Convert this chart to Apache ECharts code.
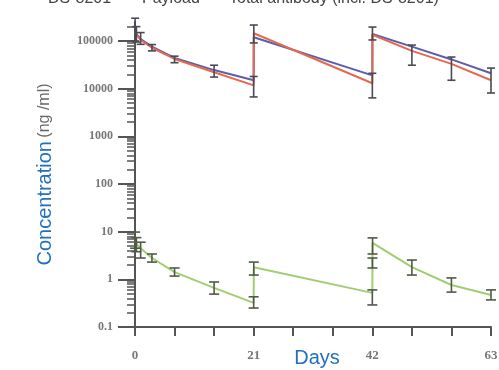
<!DOCTYPE html>
<html>
<head>
<meta charset="utf-8">
<script src="https://cdn.jsdelivr.net/npm/echarts@6/dist/echarts.min.js"></script>
<style>html,body{margin:0;padding:0;background:#fff;}#c{width:499px;height:370px;}</style>
</head>
<body>
<div id="c"></div>
<script>
// ---- data ----
const seriesNames = ['DS-8201', 'Payload', 'Total antibody (incl. DS-8201)'];
const upperDays = [0.02, 0.25, 1, 3, 7, 14, 21, 21.02, 42, 42.02, 49, 56, 63];
const ds8201 = [160000, 140000, 105000, 72000, 42000, 22000, 11700, 145000, 13000, 135000, 62000, 33000, 15000];
const totalAb = [150000, 140000, 110000, 76000, 44000, 24500, 15000, 120000, 19000, 140000, 76000, 41000, 21000];
const upperErrHigh = [300000, 200000, 150000, 84000, 48000, 31000, 18000, 216000, 21000, 196000, 82000, 46000, 27000];
const upperErrLow = [100000, 95000, 85000, 62000, 35000, 17500, 6700, 91000, 6400, 105000, 31000, 15000, 8100];

const payloadDays = [0.02, 0.25, 1, 3, 7, 14, 21, 21.02, 42, 42.02, 42.04, 49, 56, 63];
const payload = [6.5, 5.5, 4.5, 2.8, 1.42, 0.66, 0.32, 1.8, 0.52, 2.2, 5.8, 1.8, 0.76, 0.47];
const payloadErrHigh = [9.8, 7.5, 6.0, 3.4, 1.73, 0.88, 0.43, 2.3, 0.6, 2.8, 7.4, 2.54, 1.07, 0.6];
const payloadErrLow = [4.5, 3.8, 2.8, 2.3, 1.17, 0.49, 0.25, 1.23, 0.29, 1.73, 3.4, 1.23, 0.54, 0.37];

const yTicks = [0.1, 1, 10, 100, 1000, 10000, 100000];
const xTickLabels = [0, 21, 42, 63];

// minor log ticks
const yMinorTicks = [];
for (const t of yTicks) { for (let k = 2; k <= 9; k++) { const v = Number((t * k).toPrecision(3)); if (v <= 250000) yMinorTicks.push(v); } }

const pair = (xs, ys) => xs.map((x, i) => [x, ys[i]]);
const errData = (xs, lo, hi) => xs.map((x, i) => [x, lo[i], hi[i]]);

function errRender(color, half) {
  return function (params, api) {
    const x = api.value(0), lo = api.value(1), hi = api.value(2);
    const a = api.coord([x, hi]), b = api.coord([x, lo]);
    const st = { stroke: color, lineWidth: 1.6 };
    return { type: 'group', children: [
      { type: 'line', shape: { x1: a[0], y1: a[1], x2: b[0], y2: b[1] }, style: st },
      { type: 'line', shape: { x1: a[0] - half, y1: a[1], x2: a[0] + half, y2: a[1] }, style: st },
      { type: 'line', shape: { x1: b[0] - half, y1: b[1], x2: b[0] + half, y2: b[1] }, style: st }
    ]};
  };
}

const colors = { 'DS-8201': '#e26a4f', 'Payload': '#a2cd72', 'Total antibody (incl. DS-8201)': '#5d5eab' };
const legendLeft = [18, 112, 199];
const chart = echarts.init(document.getElementById('c'));
chart.setOption({
  animation: false,
  backgroundColor: '#fff',
  legend: seriesNames.map((n, i) => ({
    data: [n], top: -14, left: legendLeft[i], itemWidth: 20, itemHeight: 2, itemGap: 5,
    icon: 'rect', textStyle: { fontSize: 16, color: '#444', fontFamily: 'Liberation Sans, Arial, sans-serif' }
  })),
  grid: { left: 135, right: 8, top: 22, bottom: 43, containLabel: false, outerBoundsMode: 'none' },
  xAxis: {
    type: 'value', min: 0, max: 63, interval: 7,
    name: 'Days', nameLocation: 'middle', nameGap: 21, nameMoveOverlap: false,
    nameTextStyle: { color: '#2270bf', fontSize: 20, fontFamily: 'Liberation Sans, Arial, sans-serif', padding: [0, 0, 0, 8] },
    axisLine: { lineStyle: { color: '#555', width: 2 } },
    axisTick: { length: 9, lineStyle: { color: '#555', width: 2 } },
    splitLine: { show: false },
    axisLabel: { margin: 22, color: '#777', fontSize: 13, fontWeight: 'bold', fontFamily: 'Liberation Serif, serif',
      formatter: v => (xTickLabels.indexOf(v) >= 0 ? String(v) : '') }
  },
  yAxis: [{
    type: 'log', min: 0.1, max: 250000, position: 'left',
    name: '{a|Concentration} {b|(ng /ml)}', nameLocation: 'middle', nameGap: 80, nameRotate: 90, nameMoveOverlap: false,
    nameTextStyle: { rich: {
      a: { color: '#2270bf', fontSize: 20, fontFamily: 'Liberation Sans, Arial, sans-serif' },
      b: { color: '#666', fontSize: 16, fontFamily: 'Liberation Sans, Arial, sans-serif' } } },
    axisLine: { show: true, lineStyle: { color: '#555', width: 2 } },
    axisTick: { show: true, length: 17, customValues: yTicks, lineStyle: { color: '#555', width: 2 } },
    axisLabel: { customValues: yTicks, margin: 22, color: '#777', fontSize: 12, fontWeight: 'bold',
      fontFamily: 'Liberation Serif, serif', formatter: v => String(Number(Number(v).toPrecision(3))) },
    splitLine: { show: false }
  }, {
    type: 'log', min: 0.1, max: 250000, position: 'left', offset: 0,
    axisLine: { show: false },
    axisTick: { show: true, length: 8, customValues: yMinorTicks, lineStyle: { color: '#555', width: 1.5 } },
    axisLabel: { show: false },
    splitLine: { show: false }
  }],
  series: [
    { name: 'Total antibody (incl. DS-8201)', type: 'line', data: pair(upperDays, totalAb), showSymbol: false, symbol: 'none',
      lineStyle: { color: colors['Total antibody (incl. DS-8201)'], width: 2 }, itemStyle: { color: colors['Total antibody (incl. DS-8201)'] } },
    { name: 'DS-8201', type: 'line', data: pair(upperDays, ds8201), showSymbol: false, symbol: 'none',
      lineStyle: { color: colors['DS-8201'], width: 2 }, itemStyle: { color: colors['DS-8201'] } },
    { name: 'Payload', type: 'line', data: pair(payloadDays, payload), showSymbol: false, symbol: 'none',
      lineStyle: { color: colors['Payload'], width: 2 }, itemStyle: { color: colors['Payload'] } },
    { type: 'custom', data: errData(upperDays, upperErrLow, upperErrHigh), encode: { x: 0, y: [1, 2] },
      renderItem: errRender('#4a4a55', 4), z: 5 },
    { type: 'custom', data: errData(payloadDays, payloadErrLow, payloadErrHigh), encode: { x: 0, y: [1, 2] },
      renderItem: errRender('#505a48', 5), z: 5 }
  ]
});
</script>
</body>
</html>
